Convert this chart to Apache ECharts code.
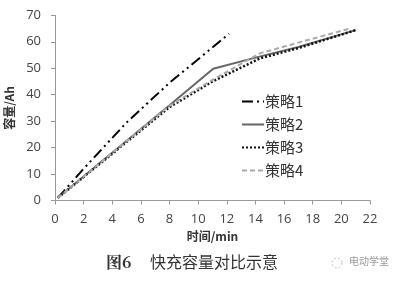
<!DOCTYPE html>
<html><head><meta charset="utf-8">
<script src="https://cdn.jsdelivr.net/npm/echarts@6/dist/echarts.min.js"></script>
<style>html,body{margin:0;padding:0;background:#fff}#c{width:400px;height:281px}</style>
</head><body><div id="c"></div>
<script>
const xTicks = [0,2,4,6,8,10,12,14,16,18,20,22];
const yTicks = [0,10,20,30,40,50,60,70];
const seriesNames = ['策略1','策略2','策略3','策略4'];
const s1 = [[0.2,1],[2,12],[5,29.5],[8,44.5],[12.15,63]];
const s2 = [[0.2,1],[8,36],[11.05,49.8],[14,54],[17,58],[21,64.4]];
const s3 = [[0.2,1],[8,35.3],[11,45],[14.3,53.7],[17,57.6],[21,64.4]];
const s4 = [[0.2,1],[8,35.8],[11,45.6],[14.3,55.6],[16.4,58.8],[20.6,65]];
const captionLabel = '图6';
const captionText = '快充容量对比示意';
const watermark = '电动学堂';

const chart = echarts.init(document.getElementById('c'), null, {renderer:'canvas'});
const cjk = '"Noto Sans CJK SC", "Noto Sans", sans-serif';
function line(name, data, color, width, type){
  return {name, type:'line', data, symbol:'none', showSymbol:false, smooth:false,
    lineStyle:{color, width, type}, itemStyle:{color}, animation:false};
}
chart.setOption({
  animation:false,
  grid:{left:55, right:30, top:15.3, bottom:80.5, containLabel:false, outerBoundsMode:'none'},
  xAxis:{type:'value', min:0, max:22, interval:2,
    name:'时间/min', nameLocation:'middle', nameGap:25,
    nameTextStyle:{fontFamily:cjk, fontSize:12, fontWeight:'bold', color:'#333'},
    axisLine:{lineStyle:{color:'#999'}}, axisTick:{show:true, length:4, lineStyle:{color:'#999'}},
    axisLabel:{color:'#444', fontSize:13, fontFamily:'"Open Sans", sans-serif', margin:12,
      formatter:v=>xTicks.includes(v)?String(v):''},
    splitLine:{show:false}},
  yAxis:{type:'value', min:0, max:70, interval:10,
    name:'容量/Ah', nameLocation:'middle', nameGap:40, nameRotate:90,
    nameTextStyle:{fontFamily:cjk, fontSize:12, fontWeight:'bold', color:'#333'},
    axisLine:{show:true, lineStyle:{color:'#999'}}, axisTick:{show:true, length:4, lineStyle:{color:'#999'}},
    axisLabel:{color:'#444', fontSize:13, fontFamily:'"Open Sans", sans-serif', margin:14,
      formatter:v=>yTicks.includes(v)?String(v):''},
    splitLine:{show:false}},
  legend:{orient:'vertical', left:236, top:89, itemWidth:22, itemHeight:12, itemGap:8,
    itemStyle:{color:'transparent', borderWidth:0, opacity:0},
    textStyle:{fontFamily:cjk, fontSize:15, color:'#333', padding:[0,0,0,-4]},
    data:seriesNames},
  series:[
    line(seriesNames[0], s1, '#000', 2, [11,4,2,4,2,4]),
    line(seriesNames[1], s2, '#666', 2, 'solid'),
    line(seriesNames[2], s3, '#111', 2.5, [2,2]),
    line(seriesNames[3], s4, '#aaa', 2, [5,3])
  ],
  graphic:[
    {type:'text', left:106, top:254, style:{text:captionLabel, font:'bold 16px "Noto Serif CJK SC", "Noto Sans CJK SC", serif', fill:'#333'}},
    {type:'text', left:150, top:254, style:{text:captionText, font:'16px "Noto Sans CJK SC", sans-serif', fill:'#333'}},
    {type:'circle', shape:{cx:337, cy:263, r:5}, style:{fill:'none', stroke:'#bbb', lineWidth:1, lineDash:[2,2]}},
    {type:'text', left:349, top:256, style:{text:watermark, font:'10px "Noto Sans CJK SC", sans-serif', fill:'#999'}}
  ]
});
</script></body></html>
